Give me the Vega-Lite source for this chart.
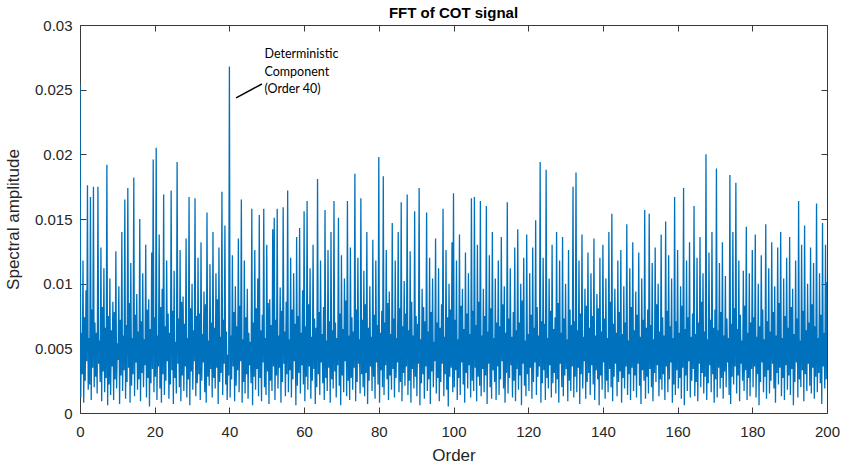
{
"$schema":"https://vega.github.io/schema/vega-lite/v6.json",
"width":747,"height":388,
"autosize":{"type":"none"},
"padding":{"left":80,"top":25,"right":16,"bottom":55},
"background":"white",
"title":{"text":"FFT of COT signal","fontSize":15,"font":"Liberation Sans","fontWeight":"bold","color":"#000000","anchor":"middle","offset":-3},
"config":{
 "view":{"stroke":"#3a3a3a","strokeWidth":1},
 "axis":{"labelFont":"Liberation Sans","labelFontSize":15,"labelColor":"#262626","titleFont":"Liberation Sans","titleFontSize":17,"titleFontWeight":"normal","titleColor":"#262626","domain":false,"tickColor":"#3a3a3a","grid":false,"tickSize":6,"offset":-6}
},
"data":{"values":[
{"order":0,"amp":0.0255},{"order":0.2,"amp":0.0012},{"order":0.4,"amp":0.0062},{"order":0.6,"amp":0.0030},{"order":0.8,"amp":0.0118},{"order":1,"amp":0.0008},{"order":1.2,"amp":0.0074},{"order":1.4,"amp":0.0025},{"order":1.6,"amp":0.0095},{"order":1.8,"amp":0.0040},{"order":2,"amp":0.0176},{"order":2.2,"amp":0.0018},{"order":2.4,"amp":0.0058},{"order":2.6,"amp":0.0022},{"order":2.8,"amp":0.0167},{"order":3,"amp":0.0010},{"order":3.2,"amp":0.0080},{"order":3.4,"amp":0.0035},{"order":3.6,"amp":0.0175},{"order":3.8,"amp":0.0020},
{"order":4,"amp":0.0070},{"order":4.2,"amp":0.0028},{"order":4.4,"amp":0.0062},{"order":4.6,"amp":0.0015},{"order":4.8,"amp":0.0175},{"order":5,"amp":0.0038},{"order":5.2,"amp":0.0056},{"order":5.4,"amp":0.0024},{"order":5.6,"amp":0.0128},{"order":5.8,"amp":0.0009},{"order":6,"amp":0.0082},{"order":6.2,"amp":0.0032},{"order":6.4,"amp":0.0112},{"order":6.6,"amp":0.0016},{"order":6.8,"amp":0.0066},{"order":7,"amp":0.0027},{"order":7.2,"amp":0.0192},{"order":7.4,"amp":0.0006},{"order":7.6,"amp":0.0075},{"order":7.8,"amp":0.0022},
{"order":8,"amp":0.0104},{"order":8.2,"amp":0.0014},{"order":8.4,"amp":0.0064},{"order":8.6,"amp":0.0036},{"order":8.8,"amp":0.0086},{"order":9,"amp":0.0010},{"order":9.2,"amp":0.0078},{"order":9.4,"amp":0.0026},{"order":9.6,"amp":0.0125},{"order":9.8,"amp":0.0019},{"order":10,"amp":0.0054},{"order":10.2,"amp":0.0041},{"order":10.4,"amp":0.0098},{"order":10.6,"amp":0.0007},{"order":10.8,"amp":0.0072},{"order":11,"amp":0.0029},{"order":11.2,"amp":0.0140},{"order":11.4,"amp":0.0017},{"order":11.6,"amp":0.0060},{"order":11.8,"amp":0.0033},
{"order":12,"amp":0.0165},{"order":12.2,"amp":0.0011},{"order":12.4,"amp":0.0068},{"order":12.6,"amp":0.0024},{"order":12.8,"amp":0.0174},{"order":13,"amp":0.0035},{"order":13.2,"amp":0.0085},{"order":13.4,"amp":0.0008},{"order":13.6,"amp":0.0116},{"order":13.8,"amp":0.0021},{"order":14,"amp":0.0058},{"order":14.2,"amp":0.0030},{"order":14.4,"amp":0.0182},{"order":14.6,"amp":0.0013},{"order":14.8,"amp":0.0076},{"order":15,"amp":0.0039},{"order":15.2,"amp":0.0092},{"order":15.4,"amp":0.0018},{"order":15.6,"amp":0.0063},{"order":15.8,"amp":0.0026},
{"order":16,"amp":0.0150},{"order":16.2,"amp":0.0009},{"order":16.4,"amp":0.0071},{"order":16.6,"amp":0.0031},{"order":16.8,"amp":0.0108},{"order":17,"amp":0.0020},{"order":17.2,"amp":0.0057},{"order":17.4,"amp":0.0037},{"order":17.6,"amp":0.0130},{"order":17.8,"amp":0.0012},{"order":18,"amp":0.0080},{"order":18.2,"amp":0.0027},{"order":18.4,"amp":0.0088},{"order":18.6,"amp":0.0005},{"order":18.8,"amp":0.0065},{"order":19,"amp":0.0023},{"order":19.2,"amp":0.0124},{"order":19.4,"amp":0.0034},{"order":19.6,"amp":0.0196},{"order":19.8,"amp":0.0016},
{"order":20,"amp":0.0074},{"order":20.2,"amp":0.0028},{"order":20.4,"amp":0.0205},{"order":20.6,"amp":0.0010},{"order":20.8,"amp":0.0060},{"order":21,"amp":0.0036},{"order":21.2,"amp":0.0138},{"order":21.4,"amp":0.0019},{"order":21.6,"amp":0.0082},{"order":21.8,"amp":0.0008},{"order":22,"amp":0.0096},{"order":22.2,"amp":0.0030},{"order":22.4,"amp":0.0169},{"order":22.6,"amp":0.0014},{"order":22.8,"amp":0.0067},{"order":23,"amp":0.0025},{"order":23.2,"amp":0.0118},{"order":23.4,"amp":0.0040},{"order":23.6,"amp":0.0077},{"order":23.8,"amp":0.0011},
{"order":24,"amp":0.0062},{"order":24.2,"amp":0.0022},{"order":24.4,"amp":0.0172},{"order":24.6,"amp":0.0033},{"order":24.8,"amp":0.0079},{"order":25,"amp":0.0007},{"order":25.2,"amp":0.0110},{"order":25.4,"amp":0.0027},{"order":25.6,"amp":0.0055},{"order":25.8,"amp":0.0015},{"order":26,"amp":0.0194},{"order":26.2,"amp":0.0038},{"order":26.4,"amp":0.0073},{"order":26.6,"amp":0.0020},{"order":26.8,"amp":0.0126},{"order":27,"amp":0.0009},{"order":27.2,"amp":0.0086},{"order":27.4,"amp":0.0029},{"order":27.6,"amp":0.0090},{"order":27.8,"amp":0.0017},
{"order":28,"amp":0.0069},{"order":28.2,"amp":0.0036},{"order":28.4,"amp":0.0135},{"order":28.6,"amp":0.0012},{"order":28.8,"amp":0.0058},{"order":29,"amp":0.0026},{"order":29.2,"amp":0.0167},{"order":29.4,"amp":0.0006},{"order":29.6,"amp":0.0081},{"order":29.8,"amp":0.0032},{"order":30,"amp":0.0100},{"order":30.2,"amp":0.0018},{"order":30.4,"amp":0.0064},{"order":30.6,"amp":0.0040},{"order":30.8,"amp":0.0166},{"order":31,"amp":0.0013},{"order":31.2,"amp":0.0075},{"order":31.4,"amp":0.0023},{"order":31.6,"amp":0.0120},{"order":31.8,"amp":0.0030},
{"order":32,"amp":0.0077},{"order":32.2,"amp":0.0010},{"order":32.4,"amp":0.0132},{"order":32.6,"amp":0.0025},{"order":32.8,"amp":0.0061},{"order":33,"amp":0.0039},{"order":33.2,"amp":0.0094},{"order":33.4,"amp":0.0016},{"order":33.6,"amp":0.0084},{"order":33.8,"amp":0.0008},{"order":34,"amp":0.0155},{"order":34.2,"amp":0.0028},{"order":34.4,"amp":0.0056},{"order":34.6,"amp":0.0021},{"order":34.8,"amp":0.0115},{"order":35,"amp":0.0034},{"order":35.2,"amp":0.0070},{"order":35.4,"amp":0.0012},{"order":35.6,"amp":0.0140},{"order":35.8,"amp":0.0027},
{"order":36,"amp":0.0066},{"order":36.2,"amp":0.0019},{"order":36.4,"amp":0.0108},{"order":36.6,"amp":0.0035},{"order":36.8,"amp":0.0088},{"order":37,"amp":0.0007},{"order":37.2,"amp":0.0128},{"order":37.4,"amp":0.0024},{"order":37.6,"amp":0.0059},{"order":37.8,"amp":0.0031},{"order":38,"amp":0.0171},{"order":38.2,"amp":0.0014},{"order":38.4,"amp":0.0072},{"order":38.6,"amp":0.0038},{"order":38.8,"amp":0.0145},{"order":39,"amp":0.0022},{"order":39.2,"amp":0.0063},{"order":39.4,"amp":0.0010},{"order":39.6,"amp":0.0045},{"order":39.8,"amp":0.0029},
{"order":40,"amp":0.0268},{"order":40.2,"amp":0.0012},{"order":40.4,"amp":0.0060},{"order":40.6,"amp":0.0026},{"order":40.8,"amp":0.0122},{"order":41,"amp":0.0036},{"order":41.2,"amp":0.0078},{"order":41.4,"amp":0.0009},{"order":41.6,"amp":0.0098},{"order":41.8,"amp":0.0021},{"order":42,"amp":0.0067},{"order":42.2,"amp":0.0033},{"order":42.4,"amp":0.0135},{"order":42.6,"amp":0.0016},{"order":42.8,"amp":0.0083},{"order":43,"amp":0.0040},{"order":43.2,"amp":0.0165},{"order":43.4,"amp":0.0008},{"order":43.6,"amp":0.0057},{"order":43.8,"amp":0.0024},
{"order":44,"amp":0.0118},{"order":44.2,"amp":0.0015},{"order":44.4,"amp":0.0074},{"order":44.6,"amp":0.0030},{"order":44.8,"amp":0.0096},{"order":45,"amp":0.0011},{"order":45.2,"amp":0.0062},{"order":45.4,"amp":0.0037},{"order":45.6,"amp":0.0055},{"order":45.8,"amp":0.0023},{"order":46,"amp":0.0158},{"order":46.2,"amp":0.0006},{"order":46.4,"amp":0.0070},{"order":46.6,"amp":0.0028},{"order":46.8,"amp":0.0126},{"order":47,"amp":0.0018},{"order":47.2,"amp":0.0081},{"order":47.4,"amp":0.0034},{"order":47.6,"amp":0.0104},{"order":47.8,"amp":0.0013},
{"order":48,"amp":0.0153},{"order":48.2,"amp":0.0027},{"order":48.4,"amp":0.0064},{"order":48.6,"amp":0.0009},{"order":48.8,"amp":0.0076},{"order":49,"amp":0.0039},{"order":49.2,"amp":0.0158},{"order":49.4,"amp":0.0020},{"order":49.6,"amp":0.0058},{"order":49.8,"amp":0.0014},{"order":50,"amp":0.0130},{"order":50.2,"amp":0.0032},{"order":50.4,"amp":0.0085},{"order":50.6,"amp":0.0007},{"order":50.8,"amp":0.0088},{"order":51,"amp":0.0025},{"order":51.2,"amp":0.0068},{"order":51.4,"amp":0.0017},{"order":51.6,"amp":0.0142},{"order":51.8,"amp":0.0036},
{"order":52,"amp":0.0151},{"order":52.2,"amp":0.0010},{"order":52.4,"amp":0.0072},{"order":52.6,"amp":0.0029},{"order":52.8,"amp":0.0158},{"order":53,"amp":0.0019},{"order":53.2,"amp":0.0060},{"order":53.4,"amp":0.0035},{"order":53.6,"amp":0.0097},{"order":53.8,"amp":0.0008},{"order":54,"amp":0.0079},{"order":54.2,"amp":0.0024},{"order":54.4,"amp":0.0159},{"order":54.6,"amp":0.0038},{"order":54.8,"amp":0.0063},{"order":55,"amp":0.0013},{"order":55.2,"amp":0.0086},{"order":55.4,"amp":0.0030},{"order":55.6,"amp":0.0172},{"order":55.8,"amp":0.0016},
{"order":56,"amp":0.0057},{"order":56.2,"amp":0.0033},{"order":56.4,"amp":0.0120},{"order":56.6,"amp":0.0012},{"order":56.8,"amp":0.0080},{"order":57,"amp":0.0026},{"order":57.2,"amp":0.0108},{"order":57.4,"amp":0.0040},{"order":57.6,"amp":0.0069},{"order":57.8,"amp":0.0006},{"order":58,"amp":0.0136},{"order":58.2,"amp":0.0021},{"order":58.4,"amp":0.0075},{"order":58.6,"amp":0.0031},{"order":58.8,"amp":0.0143},{"order":59,"amp":0.0015},{"order":59.2,"amp":0.0062},{"order":59.4,"amp":0.0037},{"order":59.6,"amp":0.0095},{"order":59.8,"amp":0.0022},
{"order":60,"amp":0.0156},{"order":60.2,"amp":0.0009},{"order":60.4,"amp":0.0067},{"order":60.6,"amp":0.0028},{"order":60.8,"amp":0.0164},{"order":61,"amp":0.0018},{"order":61.2,"amp":0.0084},{"order":61.4,"amp":0.0036},{"order":61.6,"amp":0.0112},{"order":61.8,"amp":0.0011},{"order":62,"amp":0.0059},{"order":62.2,"amp":0.0025},{"order":62.4,"amp":0.0130},{"order":62.6,"amp":0.0034},{"order":62.8,"amp":0.0073},{"order":63,"amp":0.0007},{"order":63.2,"amp":0.0066},{"order":63.4,"amp":0.0020},{"order":63.6,"amp":0.0181},{"order":63.8,"amp":0.0030},
{"order":64,"amp":0.0078},{"order":64.2,"amp":0.0014},{"order":64.4,"amp":0.0118},{"order":64.6,"amp":0.0039},{"order":64.8,"amp":0.0061},{"order":65,"amp":0.0023},{"order":65.2,"amp":0.0082},{"order":65.4,"amp":0.0010},{"order":65.6,"amp":0.0157},{"order":65.8,"amp":0.0027},{"order":66,"amp":0.0056},{"order":66.2,"amp":0.0017},{"order":66.4,"amp":0.0126},{"order":66.6,"amp":0.0035},{"order":66.8,"amp":0.0071},{"order":67,"amp":0.0008},{"order":67.2,"amp":0.0140},{"order":67.4,"amp":0.0026},{"order":67.6,"amp":0.0064},{"order":67.8,"amp":0.0019},
{"order":68,"amp":0.0164},{"order":68.2,"amp":0.0032},{"order":68.4,"amp":0.0070},{"order":68.6,"amp":0.0012},{"order":68.8,"amp":0.0058},{"order":69,"amp":0.0037},{"order":69.2,"amp":0.0151},{"order":69.4,"amp":0.0021},{"order":69.6,"amp":0.0077},{"order":69.8,"amp":0.0006},{"order":70,"amp":0.0122},{"order":70.2,"amp":0.0029},{"order":70.4,"amp":0.0065},{"order":70.6,"amp":0.0016},{"order":70.8,"amp":0.0104},{"order":71,"amp":0.0040},{"order":71.2,"amp":0.0087},{"order":71.4,"amp":0.0013},{"order":71.6,"amp":0.0164},{"order":71.8,"amp":0.0025},
{"order":72,"amp":0.0060},{"order":72.2,"amp":0.0010},{"order":72.4,"amp":0.0128},{"order":72.6,"amp":0.0027},{"order":72.8,"amp":0.0074},{"order":73,"amp":0.0018},{"order":73.2,"amp":0.0063},{"order":73.4,"amp":0.0035},{"order":73.6,"amp":0.0185},{"order":73.8,"amp":0.0009},{"order":74,"amp":0.0080},{"order":74.2,"amp":0.0024},{"order":74.4,"amp":0.0120},{"order":74.6,"amp":0.0038},{"order":74.8,"amp":0.0057},{"order":75,"amp":0.0015},{"order":75.2,"amp":0.0166},{"order":75.4,"amp":0.0030},{"order":75.6,"amp":0.0072},{"order":75.8,"amp":0.0020},
{"order":76,"amp":0.0110},{"order":76.2,"amp":0.0013},{"order":76.4,"amp":0.0084},{"order":76.6,"amp":0.0031},{"order":76.8,"amp":0.0140},{"order":77,"amp":0.0007},{"order":77.2,"amp":0.0066},{"order":77.4,"amp":0.0025},{"order":77.6,"amp":0.0098},{"order":77.8,"amp":0.0036},{"order":78,"amp":0.0059},{"order":78.2,"amp":0.0017},{"order":78.4,"amp":0.0134},{"order":78.6,"amp":0.0028},{"order":78.8,"amp":0.0076},{"order":79,"amp":0.0011},{"order":79.2,"amp":0.0118},{"order":79.4,"amp":0.0039},{"order":79.6,"amp":0.0068},{"order":79.8,"amp":0.0022},
{"order":80,"amp":0.0198},{"order":80.2,"amp":0.0008},{"order":80.4,"amp":0.0062},{"order":80.6,"amp":0.0033},{"order":80.8,"amp":0.0079},{"order":81,"amp":0.0020},{"order":81.2,"amp":0.0183},{"order":81.4,"amp":0.0014},{"order":81.6,"amp":0.0070},{"order":81.8,"amp":0.0037},{"order":82,"amp":0.0126},{"order":82.2,"amp":0.0026},{"order":82.4,"amp":0.0085},{"order":82.6,"amp":0.0010},{"order":82.8,"amp":0.0094},{"order":83,"amp":0.0029},{"order":83.2,"amp":0.0061},{"order":83.4,"amp":0.0018},{"order":83.6,"amp":0.0147},{"order":83.8,"amp":0.0034},
{"order":84,"amp":0.0073},{"order":84.2,"amp":0.0012},{"order":84.4,"amp":0.0118},{"order":84.6,"amp":0.0027},{"order":84.8,"amp":0.0058},{"order":85,"amp":0.0039},{"order":85.2,"amp":0.0140},{"order":85.4,"amp":0.0016},{"order":85.6,"amp":0.0081},{"order":85.8,"amp":0.0024},{"order":86,"amp":0.0163},{"order":86.2,"amp":0.0009},{"order":86.4,"amp":0.0067},{"order":86.6,"amp":0.0031},{"order":86.8,"amp":0.0102},{"order":87,"amp":0.0021},{"order":87.2,"amp":0.0077},{"order":87.4,"amp":0.0036},{"order":87.6,"amp":0.0169},{"order":87.8,"amp":0.0014},
{"order":88,"amp":0.0064},{"order":88.2,"amp":0.0025},{"order":88.4,"amp":0.0125},{"order":88.6,"amp":0.0008},{"order":88.8,"amp":0.0086},{"order":89,"amp":0.0034},{"order":89.2,"amp":0.0060},{"order":89.4,"amp":0.0019},{"order":89.6,"amp":0.0156},{"order":89.8,"amp":0.0028},{"order":90,"amp":0.0075},{"order":90.2,"amp":0.0013},{"order":90.4,"amp":0.0069},{"order":90.6,"amp":0.0038},{"order":90.8,"amp":0.0174},{"order":91,"amp":0.0006},{"order":91.2,"amp":0.0057},{"order":91.4,"amp":0.0023},{"order":91.6,"amp":0.0096},{"order":91.8,"amp":0.0030},
{"order":92,"amp":0.0082},{"order":92.2,"amp":0.0011},{"order":92.4,"amp":0.0071},{"order":92.6,"amp":0.0036},{"order":92.8,"amp":0.0155},{"order":93,"amp":0.0017},{"order":93.2,"amp":0.0063},{"order":93.4,"amp":0.0026},{"order":93.6,"amp":0.0120},{"order":93.8,"amp":0.0007},{"order":94,"amp":0.0078},{"order":94.2,"amp":0.0032},{"order":94.4,"amp":0.0104},{"order":94.6,"amp":0.0020},{"order":94.8,"amp":0.0055},{"order":95,"amp":0.0040},{"order":95.2,"amp":0.0135},{"order":95.4,"amp":0.0015},{"order":95.6,"amp":0.0070},{"order":95.8,"amp":0.0027},
{"order":96,"amp":0.0112},{"order":96.2,"amp":0.0009},{"order":96.4,"amp":0.0066},{"order":96.6,"amp":0.0024},{"order":96.8,"amp":0.0084},{"order":97,"amp":0.0038},{"order":97.2,"amp":0.0158},{"order":97.4,"amp":0.0013},{"order":97.6,"amp":0.0059},{"order":97.8,"amp":0.0030},{"order":98,"amp":0.0126},{"order":98.2,"amp":0.0018},{"order":98.4,"amp":0.0074},{"order":98.6,"amp":0.0005},{"order":98.8,"amp":0.0100},{"order":99,"amp":0.0028},{"order":99.2,"amp":0.0080},{"order":99.4,"amp":0.0035},{"order":99.6,"amp":0.0132},{"order":99.8,"amp":0.0016},
{"order":100,"amp":0.0170},{"order":100.2,"amp":0.0020},{"order":100.4,"amp":0.0072},{"order":100.6,"amp":0.0033},{"order":100.8,"amp":0.0118},{"order":101,"amp":0.0010},{"order":101.2,"amp":0.0057},{"order":101.4,"amp":0.0027},{"order":101.6,"amp":0.0138},{"order":101.8,"amp":0.0014},{"order":102,"amp":0.0083},{"order":102.2,"amp":0.0039},{"order":102.4,"amp":0.0096},{"order":102.6,"amp":0.0022},{"order":102.8,"amp":0.0065},{"order":103,"amp":0.0008},{"order":103.2,"amp":0.0124},{"order":103.4,"amp":0.0031},{"order":103.6,"amp":0.0077},{"order":103.8,"amp":0.0019},
{"order":104,"amp":0.0108},{"order":104.2,"amp":0.0037},{"order":104.4,"amp":0.0061},{"order":104.6,"amp":0.0012},{"order":104.8,"amp":0.0166},{"order":105,"amp":0.0025},{"order":105.2,"amp":0.0079},{"order":105.4,"amp":0.0017},{"order":105.6,"amp":0.0167},{"order":105.8,"amp":0.0035},{"order":106,"amp":0.0068},{"order":106.2,"amp":0.0009},{"order":106.4,"amp":0.0130},{"order":106.6,"amp":0.0028},{"order":106.8,"amp":0.0086},{"order":107,"amp":0.0021},{"order":107.2,"amp":0.0164},{"order":107.4,"amp":0.0013},{"order":107.6,"amp":0.0060},{"order":107.8,"amp":0.0034},
{"order":108,"amp":0.0096},{"order":108.2,"amp":0.0016},{"order":108.4,"amp":0.0075},{"order":108.6,"amp":0.0029},{"order":108.8,"amp":0.0160},{"order":109,"amp":0.0007},{"order":109.2,"amp":0.0063},{"order":109.4,"amp":0.0038},{"order":109.6,"amp":0.0122},{"order":109.8,"amp":0.0020},{"order":110,"amp":0.0081},{"order":110.2,"amp":0.0011},{"order":110.4,"amp":0.0140},{"order":110.6,"amp":0.0033},{"order":110.8,"amp":0.0058},{"order":111,"amp":0.0024},{"order":111.2,"amp":0.0104},{"order":111.4,"amp":0.0010},{"order":111.6,"amp":0.0070},{"order":111.8,"amp":0.0036},
{"order":112,"amp":0.0118},{"order":112.2,"amp":0.0014},{"order":112.4,"amp":0.0067},{"order":112.6,"amp":0.0026},{"order":112.8,"amp":0.0136},{"order":113,"amp":0.0040},{"order":113.2,"amp":0.0084},{"order":113.4,"amp":0.0019},{"order":113.6,"amp":0.0098},{"order":113.8,"amp":0.0008},{"order":114,"amp":0.0062},{"order":114.2,"amp":0.0031},{"order":114.4,"amp":0.0163},{"order":114.6,"amp":0.0015},{"order":114.8,"amp":0.0073},{"order":115,"amp":0.0027},{"order":115.2,"amp":0.0112},{"order":115.4,"amp":0.0037},{"order":115.6,"amp":0.0059},{"order":115.8,"amp":0.0012},
{"order":116,"amp":0.0078},{"order":116.2,"amp":0.0025},{"order":116.4,"amp":0.0128},{"order":116.6,"amp":0.0009},{"order":116.8,"amp":0.0064},{"order":117,"amp":0.0034},{"order":117.2,"amp":0.0142},{"order":117.4,"amp":0.0018},{"order":117.6,"amp":0.0070},{"order":117.8,"amp":0.0029},{"order":118,"amp":0.0100},{"order":118.2,"amp":0.0006},{"order":118.4,"amp":0.0087},{"order":118.6,"amp":0.0038},{"order":118.8,"amp":0.0120},{"order":119,"amp":0.0021},{"order":119.2,"amp":0.0056},{"order":119.4,"amp":0.0013},{"order":119.6,"amp":0.0138},{"order":119.8,"amp":0.0030},
{"order":120,"amp":0.0061},{"order":120.2,"amp":0.0017},{"order":120.4,"amp":0.0108},{"order":120.6,"amp":0.0035},{"order":120.8,"amp":0.0076},{"order":121,"amp":0.0011},{"order":121.2,"amp":0.0128},{"order":121.4,"amp":0.0024},{"order":121.6,"amp":0.0066},{"order":121.8,"amp":0.0039},{"order":122,"amp":0.0149},{"order":122.2,"amp":0.0014},{"order":122.4,"amp":0.0082},{"order":122.6,"amp":0.0028},{"order":122.8,"amp":0.0060},{"order":123,"amp":0.0036},{"order":123.2,"amp":0.0194},{"order":123.4,"amp":0.0008},{"order":123.6,"amp":0.0071},{"order":123.8,"amp":0.0023},
{"order":124,"amp":0.0120},{"order":124.2,"amp":0.0033},{"order":124.4,"amp":0.0069},{"order":124.6,"amp":0.0010},{"order":124.8,"amp":0.0188},{"order":125,"amp":0.0027},{"order":125.2,"amp":0.0058},{"order":125.4,"amp":0.0019},{"order":125.6,"amp":0.0104},{"order":125.8,"amp":0.0037},{"order":126,"amp":0.0079},{"order":126.2,"amp":0.0012},{"order":126.4,"amp":0.0130},{"order":126.6,"amp":0.0023},{"order":126.8,"amp":0.0065},{"order":127,"amp":0.0031},{"order":127.2,"amp":0.0074},{"order":127.4,"amp":0.0015},{"order":127.6,"amp":0.0140},{"order":127.8,"amp":0.0026},
{"order":128,"amp":0.0085},{"order":128.2,"amp":0.0008},{"order":128.4,"amp":0.0118},{"order":128.6,"amp":0.0038},{"order":128.8,"amp":0.0062},{"order":129,"amp":0.0020},{"order":129.2,"amp":0.0136},{"order":129.4,"amp":0.0013},{"order":129.6,"amp":0.0073},{"order":129.8,"amp":0.0029},{"order":130,"amp":0.0100},{"order":130.2,"amp":0.0034},{"order":130.4,"amp":0.0057},{"order":130.6,"amp":0.0009},{"order":130.8,"amp":0.0126},{"order":131,"amp":0.0025},{"order":131.2,"amp":0.0080},{"order":131.4,"amp":0.0017},{"order":131.6,"amp":0.0068},{"order":131.8,"amp":0.0036},
{"order":132,"amp":0.0175},{"order":132.2,"amp":0.0012},{"order":132.4,"amp":0.0071},{"order":132.6,"amp":0.0028},{"order":132.8,"amp":0.0186},{"order":133,"amp":0.0016},{"order":133.2,"amp":0.0064},{"order":133.4,"amp":0.0035},{"order":133.6,"amp":0.0118},{"order":133.8,"amp":0.0007},{"order":134,"amp":0.0077},{"order":134.2,"amp":0.0030},{"order":134.4,"amp":0.0138},{"order":134.6,"amp":0.0019},{"order":134.8,"amp":0.0059},{"order":135,"amp":0.0040},{"order":135.2,"amp":0.0096},{"order":135.4,"amp":0.0011},{"order":135.6,"amp":0.0083},{"order":135.8,"amp":0.0024},
{"order":136,"amp":0.0124},{"order":136.2,"amp":0.0031},{"order":136.4,"amp":0.0066},{"order":136.6,"amp":0.0014},{"order":136.8,"amp":0.0108},{"order":137,"amp":0.0037},{"order":137.2,"amp":0.0075},{"order":137.4,"amp":0.0022},{"order":137.6,"amp":0.0135},{"order":137.8,"amp":0.0010},{"order":138,"amp":0.0060},{"order":138.2,"amp":0.0033},{"order":138.4,"amp":0.0092},{"order":138.6,"amp":0.0026},{"order":138.8,"amp":0.0081},{"order":139,"amp":0.0006},{"order":139.2,"amp":0.0120},{"order":139.4,"amp":0.0029},{"order":139.6,"amp":0.0063},{"order":139.8,"amp":0.0018},
{"order":140,"amp":0.0130},{"order":140.2,"amp":0.0039},{"order":140.4,"amp":0.0073},{"order":140.6,"amp":0.0011},{"order":140.8,"amp":0.0104},{"order":141,"amp":0.0025},{"order":141.2,"amp":0.0058},{"order":141.4,"amp":0.0016},{"order":141.6,"amp":0.0140},{"order":141.8,"amp":0.0034},{"order":142,"amp":0.0086},{"order":142.2,"amp":0.0020},{"order":142.4,"amp":0.0154},{"order":142.6,"amp":0.0009},{"order":142.8,"amp":0.0069},{"order":143,"amp":0.0028},{"order":143.2,"amp":0.0096},{"order":143.4,"amp":0.0038},{"order":143.6,"amp":0.0062},{"order":143.8,"amp":0.0013},
{"order":144,"amp":0.0118},{"order":144.2,"amp":0.0024},{"order":144.4,"amp":0.0078},{"order":144.6,"amp":0.0032},{"order":144.8,"amp":0.0126},{"order":145,"amp":0.0008},{"order":145.2,"amp":0.0061},{"order":145.4,"amp":0.0027},{"order":145.6,"amp":0.0098},{"order":145.8,"amp":0.0019},{"order":146,"amp":0.0070},{"order":146.2,"amp":0.0036},{"order":146.4,"amp":0.0146},{"order":146.6,"amp":0.0014},{"order":146.8,"amp":0.0056},{"order":147,"amp":0.0030},{"order":147.2,"amp":0.0112},{"order":147.4,"amp":0.0010},{"order":147.6,"amp":0.0082},{"order":147.8,"amp":0.0035},
{"order":148,"amp":0.0132},{"order":148.2,"amp":0.0017},{"order":148.4,"amp":0.0064},{"order":148.6,"amp":0.0029},{"order":148.8,"amp":0.0094},{"order":149,"amp":0.0012},{"order":149.2,"amp":0.0076},{"order":149.4,"amp":0.0038},{"order":149.6,"amp":0.0124},{"order":149.8,"amp":0.0021},{"order":150,"amp":0.0059},{"order":150.2,"amp":0.0007},{"order":150.4,"amp":0.0104},{"order":150.6,"amp":0.0033},{"order":150.8,"amp":0.0072},{"order":151,"amp":0.0025},{"order":151.2,"amp":0.0157},{"order":151.4,"amp":0.0011},{"order":151.6,"amp":0.0066},{"order":151.8,"amp":0.0028},
{"order":152,"amp":0.0080},{"order":152.2,"amp":0.0015},{"order":152.4,"amp":0.0154},{"order":152.6,"amp":0.0034},{"order":152.8,"amp":0.0068},{"order":153,"amp":0.0020},{"order":153.2,"amp":0.0116},{"order":153.4,"amp":0.0009},{"order":153.6,"amp":0.0057},{"order":153.8,"amp":0.0031},{"order":154,"amp":0.0128},{"order":154.2,"amp":0.0024},{"order":154.4,"amp":0.0084},{"order":154.6,"amp":0.0037},{"order":154.8,"amp":0.0100},{"order":155,"amp":0.0013},{"order":155.2,"amp":0.0063},{"order":155.4,"amp":0.0026},{"order":155.6,"amp":0.0138},{"order":155.8,"amp":0.0018},
{"order":156,"amp":0.0074},{"order":156.2,"amp":0.0030},{"order":156.4,"amp":0.0060},{"order":156.6,"amp":0.0010},{"order":156.8,"amp":0.0148},{"order":157,"amp":0.0036},{"order":157.2,"amp":0.0079},{"order":157.4,"amp":0.0016},{"order":157.6,"amp":0.0122},{"order":157.8,"amp":0.0026},{"order":158,"amp":0.0067},{"order":158.2,"amp":0.0039},{"order":158.4,"amp":0.0104},{"order":158.6,"amp":0.0008},{"order":158.8,"amp":0.0058},{"order":159,"amp":0.0022},{"order":159.2,"amp":0.0167},{"order":159.4,"amp":0.0014},{"order":159.6,"amp":0.0071},{"order":159.8,"amp":0.0033},
{"order":160,"amp":0.0126},{"order":160.2,"amp":0.0019},{"order":160.4,"amp":0.0062},{"order":160.6,"amp":0.0027},{"order":160.8,"amp":0.0098},{"order":161,"amp":0.0011},{"order":161.2,"amp":0.0083},{"order":161.4,"amp":0.0035},{"order":161.6,"amp":0.0174},{"order":161.8,"amp":0.0006},{"order":162,"amp":0.0065},{"order":162.2,"amp":0.0029},{"order":162.4,"amp":0.0118},{"order":162.6,"amp":0.0017},{"order":162.8,"amp":0.0074},{"order":163,"amp":0.0040},{"order":163.2,"amp":0.0132},{"order":163.4,"amp":0.0012},{"order":163.6,"amp":0.0059},{"order":163.8,"amp":0.0025},
{"order":164,"amp":0.0077},{"order":164.2,"amp":0.0034},{"order":164.4,"amp":0.0160},{"order":164.6,"amp":0.0013},{"order":164.8,"amp":0.0061},{"order":165,"amp":0.0024},{"order":165.2,"amp":0.0120},{"order":165.4,"amp":0.0009},{"order":165.6,"amp":0.0070},{"order":165.8,"amp":0.0038},{"order":166,"amp":0.0136},{"order":166.2,"amp":0.0020},{"order":166.4,"amp":0.0086},{"order":166.6,"amp":0.0031},{"order":166.8,"amp":0.0108},{"order":167,"amp":0.0015},{"order":167.2,"amp":0.0063},{"order":167.4,"amp":0.0028},{"order":167.6,"amp":0.0200},{"order":167.8,"amp":0.0010},
{"order":168,"amp":0.0057},{"order":168.2,"amp":0.0023},{"order":168.4,"amp":0.0124},{"order":168.6,"amp":0.0037},{"order":168.8,"amp":0.0072},{"order":169,"amp":0.0016},{"order":169.2,"amp":0.0140},{"order":169.4,"amp":0.0030},{"order":169.6,"amp":0.0066},{"order":169.8,"amp":0.0008},{"order":170,"amp":0.0080},{"order":170.2,"amp":0.0026},{"order":170.4,"amp":0.0189},{"order":170.6,"amp":0.0012},{"order":170.8,"amp":0.0064},{"order":171,"amp":0.0035},{"order":171.2,"amp":0.0116},{"order":171.4,"amp":0.0019},{"order":171.6,"amp":0.0078},{"order":171.8,"amp":0.0027},
{"order":172,"amp":0.0132},{"order":172.2,"amp":0.0011},{"order":172.4,"amp":0.0060},{"order":172.6,"amp":0.0032},{"order":172.8,"amp":0.0106},{"order":173,"amp":0.0020},{"order":173.2,"amp":0.0073},{"order":173.4,"amp":0.0039},{"order":173.6,"amp":0.0058},{"order":173.8,"amp":0.0014},{"order":174,"amp":0.0184},{"order":174.2,"amp":0.0007},{"order":174.4,"amp":0.0069},{"order":174.6,"amp":0.0028},{"order":174.8,"amp":0.0140},{"order":175,"amp":0.0022},{"order":175.2,"amp":0.0081},{"order":175.4,"amp":0.0036},{"order":175.6,"amp":0.0178},{"order":175.8,"amp":0.0015},
{"order":176,"amp":0.0065},{"order":176.2,"amp":0.0029},{"order":176.4,"amp":0.0118},{"order":176.6,"amp":0.0009},{"order":176.8,"amp":0.0076},{"order":177,"amp":0.0038},{"order":177.2,"amp":0.0056},{"order":177.4,"amp":0.0025},{"order":177.6,"amp":0.0110},{"order":177.8,"amp":0.0017},{"order":178,"amp":0.0083},{"order":178.2,"amp":0.0033},{"order":178.4,"amp":0.0144},{"order":178.6,"amp":0.0010},{"order":178.8,"amp":0.0062},{"order":179,"amp":0.0027},{"order":179.2,"amp":0.0108},{"order":179.4,"amp":0.0013},{"order":179.6,"amp":0.0070},{"order":179.8,"amp":0.0034},
{"order":180,"amp":0.0126},{"order":180.2,"amp":0.0020},{"order":180.4,"amp":0.0074},{"order":180.6,"amp":0.0036},{"order":180.8,"amp":0.0138},{"order":181,"amp":0.0012},{"order":181.2,"amp":0.0059},{"order":181.4,"amp":0.0030},{"order":181.6,"amp":0.0100},{"order":181.8,"amp":0.0006},{"order":182,"amp":0.0067},{"order":182.2,"amp":0.0024},{"order":182.4,"amp":0.0122},{"order":182.6,"amp":0.0039},{"order":182.8,"amp":0.0080},{"order":183,"amp":0.0016},{"order":183.2,"amp":0.0057},{"order":183.4,"amp":0.0028},{"order":183.6,"amp":0.0146},{"order":183.8,"amp":0.0011},
{"order":184,"amp":0.0071},{"order":184.2,"amp":0.0033},{"order":184.4,"amp":0.0112},{"order":184.6,"amp":0.0015},{"order":184.8,"amp":0.0063},{"order":185,"amp":0.0025},{"order":185.2,"amp":0.0132},{"order":185.4,"amp":0.0038},{"order":185.6,"amp":0.0078},{"order":185.8,"amp":0.0019},{"order":186,"amp":0.0098},{"order":186.2,"amp":0.0008},{"order":186.4,"amp":0.0060},{"order":186.6,"amp":0.0031},{"order":186.8,"amp":0.0128},{"order":187,"amp":0.0022},{"order":187.2,"amp":0.0085},{"order":187.4,"amp":0.0035},{"order":187.6,"amp":0.0140},{"order":187.8,"amp":0.0013},
{"order":188,"amp":0.0058},{"order":188.2,"amp":0.0027},{"order":188.4,"amp":0.0104},{"order":188.6,"amp":0.0010},{"order":188.8,"amp":0.0075},{"order":189,"amp":0.0037},{"order":189.2,"amp":0.0120},{"order":189.4,"amp":0.0018},{"order":189.6,"amp":0.0066},{"order":189.8,"amp":0.0029},{"order":190,"amp":0.0136},{"order":190.2,"amp":0.0014},{"order":190.4,"amp":0.0082},{"order":190.6,"amp":0.0034},{"order":190.8,"amp":0.0096},{"order":191,"amp":0.0006},{"order":191.2,"amp":0.0061},{"order":191.4,"amp":0.0024},{"order":191.6,"amp":0.0118},{"order":191.8,"amp":0.0039},
{"order":192,"amp":0.0073},{"order":192.2,"amp":0.0012},{"order":192.4,"amp":0.0164},{"order":192.6,"amp":0.0026},{"order":192.8,"amp":0.0056},{"order":193,"amp":0.0020},{"order":193.2,"amp":0.0130},{"order":193.4,"amp":0.0033},{"order":193.6,"amp":0.0079},{"order":193.8,"amp":0.0009},{"order":194,"amp":0.0145},{"order":194.2,"amp":0.0030},{"order":194.4,"amp":0.0064},{"order":194.6,"amp":0.0017},{"order":194.8,"amp":0.0100},{"order":195,"amp":0.0038},{"order":195.2,"amp":0.0070},{"order":195.4,"amp":0.0021},{"order":195.6,"amp":0.0128},{"order":195.8,"amp":0.0015},
{"order":196,"amp":0.0084},{"order":196.2,"amp":0.0035},{"order":196.4,"amp":0.0116},{"order":196.6,"amp":0.0011},{"order":196.8,"amp":0.0067},{"order":197,"amp":0.0028},{"order":197.2,"amp":0.0162},{"order":197.4,"amp":0.0016},{"order":197.6,"amp":0.0058},{"order":197.8,"amp":0.0031},{"order":198,"amp":0.0108},{"order":198.2,"amp":0.0023},{"order":198.4,"amp":0.0076},{"order":198.6,"amp":0.0007},{"order":198.8,"amp":0.0147},{"order":199,"amp":0.0036},{"order":199.2,"amp":0.0062},{"order":199.4,"amp":0.0019},{"order":199.6,"amp":0.0130},{"order":199.8,"amp":0.0026},
{"order":200,"amp":0.0101}
]},
"layer":[
 {"mark":{"type":"line","color":"#0072BD","strokeWidth":1.3,"clip":true},
  "encoding":{
   "x":{"field":"order","type":"quantitative","scale":{"domain":[0,200],"nice":false,"zero":false},"axis":{"title":"Order","values":[0,20,40,60,80,100,120,140,160,180,200],"labelPadding":11,"titlePadding":8,"labelFlush":false}},
   "y":{"field":"amp","type":"quantitative","scale":{"domain":[0,0.03],"nice":false},"axis":{"title":"Spectral amplitude","values":[0,0.005,0.01,0.015,0.02,0.025,0.03],"labelExpr":"format(datum.value,'~g')","labelPadding":8,"titlePadding":12,"labelFlush":false}}
  }},
 {"mark":{"type":"line","opacity":0},
  "encoding":{
   "x":{"field":"order","type":"quantitative","axis":{"orient":"top","labels":false,"title":null,"values":[0,20,40,60,80,100,120,140,160,180,200]}},
   "y":{"field":"amp","type":"quantitative","axis":{"orient":"right","labels":false,"title":null,"values":[0,0.005,0.01,0.015,0.02,0.025,0.03]}}
  }},
 {"data":{"values":[{}]},
  "mark":{"type":"rule","color":"#000000","strokeWidth":1.5},
  "encoding":{"x":{"datum":41.8,"axis":null},"y":{"datum":0.02436,"axis":null},"x2":{"datum":48.7},"y2":{"datum":0.02544}}},
 {"data":{"values":[{}]},
  "mark":{"type":"text","text":["Deterministic","Component","(Order 40)"],"align":"left","baseline":"top","font":"Lato","fontSize":12.5,"lineHeight":17.5,"color":"#000000"},
  "encoding":{"x":{"datum":49.4,"axis":null},"y":{"datum":0.0282,"axis":null}}}
],
"resolve":{"axis":{"x":"independent","y":"independent"}}
}
